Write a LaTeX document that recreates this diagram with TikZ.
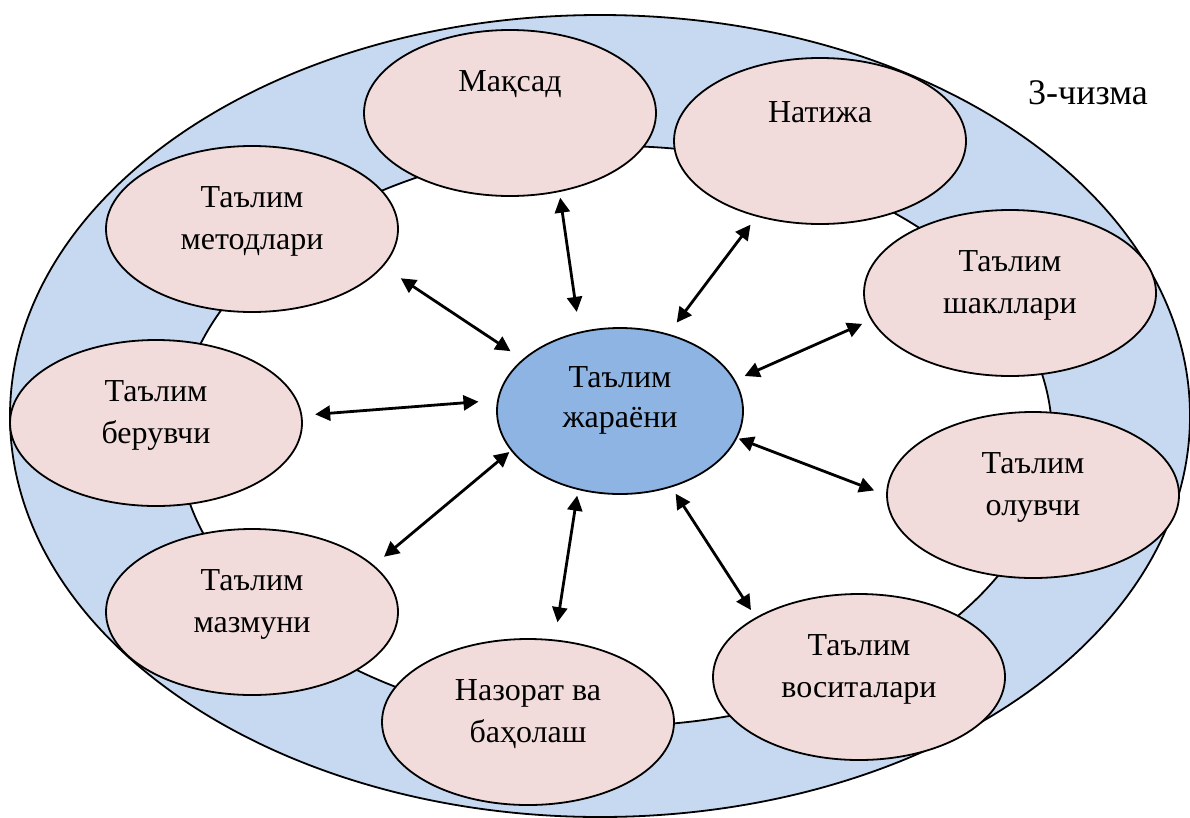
\documentclass[tikz,border=0pt]{standalone}
\usepackage{fontspec}
\setmainfont{Liberation Serif}
\usetikzlibrary{arrows.meta,shapes.geometric}
\definecolor{ringblue}{RGB}{198,217,241}
\definecolor{satpink}{RGB}{242,220,219}
\definecolor{coreblue}{RGB}{141,180,226}

\begin{document}
\begin{tikzpicture}[x=1pt,y=-1pt,
    sat/.style={ellipse, draw=black, line width=1.8pt, fill=satpink, minimum width=292pt, minimum height=166pt, inner sep=0pt},
    core/.style={ellipse, draw=black, line width=1.8pt, fill=coreblue, minimum width=246pt, minimum height=166pt, inner sep=0pt},
    txt/.style={align=center, font=\fontsize{32}{42}\selectfont, inner sep=0pt},
    link/.style={{Triangle[length=15pt,width=15pt]}-{Triangle[length=15pt,width=15pt]}, line width=2.8pt}]
    \useasboundingbox (0,0) rectangle (1190,817);
    % ring
    \draw[line width=1.8pt, fill=ringblue] (600,416) ellipse [x radius=590pt, y radius=401pt];
    \draw[line width=1.8pt, fill=white] (615,436) ellipse [x radius=437pt, y radius=290pt];

    % outer ellipses
    \node[sat] (maksad) at (510,113) {};
    \node[sat] (natija) at (820,141) {};
    \node[sat] (metod) at (252,229) {};
    \node[sat] (shakl) at (1010,293) {};
    \node[sat] (beruv) at (156,423) {};
    \node[sat] (oluv) at (1033,495) {};
    \node[sat] (mazmun) at (252,612) {};
    \node[sat] (vosita) at (859,677) {};
    \node[sat] (nazorat) at (528,722) {};
    \node[core] (jarayon) at (620,411) {};

    % texts
    \node[txt] (maksad-t) at (510,84) {Мақсад};
    \node[txt] (natija-t) at (820,112) {Натижа};
    \node[txt] (metod-t) at (252,221) {Таълим\\методлари};
    \node[txt] (shakl-t) at (1010,285) {Таълим\\шакллари};
    \node[txt] (beruv-t) at (156,415) {Таълим\\берувчи};
    \node[txt] (oluv-t) at (1033,487) {Таълим\\олувчи};
    \node[txt] (mazmun-t) at (252,604) {Таълим\\мазмуни};
    \node[txt] (vosita-t) at (859,669) {Таълим\\воситалари};
    \node[txt] (nazorat-t) at (528,714) {Назорат ва\\баҳолаш};
    \node[txt, font=\fontsize{32}{40}\selectfont] (jarayon-t) at (620,400) {Таълим\\жараёни};
    \node[txt, font=\fontsize{36}{42}\selectfont] (chizma) at (1088,93) {3-чизма};

    % arrows
    \draw[link, shorten <=5.7pt, shorten >=20pt] (maksad.-58.4) -- (jarayon.117.7);
    \draw[link, shorten <=10pt, shorten >=14pt] (natija.230) -- (jarayon.58.8);
    \draw[link, shorten <=21pt, shorten >=14.5pt] (metod.-16.6) -- (jarayon.152.2);
    \draw[link, shorten <=9.5pt, shorten >=10.3pt] (shakl.191.7) -- (jarayon.15.8);
    \draw[link, shorten <=12.9pt, shorten >=18.7pt] (beruv.3.6) -- (jarayon.175.7);
    \draw[link, shorten <=12.8pt, shorten >=1.5pt] (oluv.180.6) -- (jarayon.-13.8);
    \draw[link, shorten <=13.2pt, shorten >=2pt] (mazmun.21.1) -- (jarayon.200.8);
    \draw[link, shorten <=17.5pt, shorten >=5.8pt] (nazorat.72.2) -- (jarayon.242.3);
    \draw[link, shorten <=8.7pt, shorten >=7.6pt] (vosita.150.4) -- (jarayon.304);
\end{tikzpicture}
\end{document}
